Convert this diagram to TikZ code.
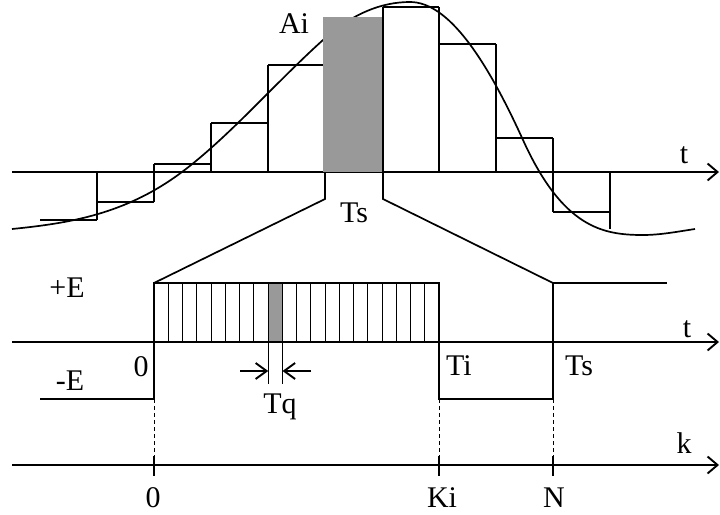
\documentclass[tikz,border=0pt]{standalone}
\usepackage{fontspec}
\setmainfont{Liberation Serif}
\usetikzlibrary{arrows.meta}
\definecolor{barfill}{RGB}{153,153,153}
\begin{document}
\begin{tikzpicture}[x=1pt,y=-1pt,
  axis/.style={line width=1.7pt,-{Straight Barb[length=10pt,width=17pt,line width=1.9pt]}},
  tqarrow/.style={line width=1.5pt,-{Straight Barb[length=11pt,width=16pt,line width=1.9pt]}},
  stair/.style={line width=1.7pt},
  sig/.style={line width=2.9pt,line join=miter},
  hatch/.style={line width=0.8pt},
  guide/.style={line width=0.8pt,dash pattern=on 4pt off 3pt},
  tick/.style={line width=1.4pt},
  lbl/.style={font=\fontsize{30}{36}\selectfont, anchor=base, inner sep=0pt}]
\useasboundingbox (0,0) rectangle (720,514);

% ---------- upper plot ----------
\coordinate (ta1) at (12,172);
\coordinate (ta2) at (719,172);
\draw[axis] (ta1) -- (ta2);

% smooth signal
\draw[line width=1.7pt] (12,229)
  .. controls (68.7,223.3) and (125.3,214.5) .. (182,172)
  .. controls (229,136.75) and (276,82.3) .. (323,40)
  .. controls (352,13.9) and (381,2) .. (410,2)
  .. controls (447.7,2) and (485.3,57) .. (523,140)
  .. controls (563,228) and (603,235) .. (643,235)
  .. controls (660.3,235) and (677.7,231.6) .. (695,229);

% staircase
\draw[stair] (40,220) -- (97,220);
\draw[stair] (97,172) -- (97,220);
\draw[stair] (97,202) -- (154,202);
\draw[stair] (154,164) -- (154,202);
\draw[stair] (154,164) -- (211,164);
\draw[stair] (211,123) -- (211,172);
\draw[stair] (211,123) -- (268,123);
\draw[stair] (268,65) -- (268,172);
\draw[stair] (268,65) -- (323,65);
\fill[barfill] (323,17) rectangle (383,172);
\draw[stair] (383,7) -- (439,7);
\draw[stair] (383,7) -- (383,172);
\draw[stair] (439,7) -- (439,172);
\draw[stair] (439,44) -- (496,44);
\draw[stair] (496,44) -- (496,172);
\draw[stair] (496,138) -- (553,138);
\draw[stair] (553,138) -- (553,212);
\draw[stair] (553,212) -- (610,212);
\draw[stair] (610,172) -- (610,229);

% zoom lines
\coordinate (zl1) at (325,172);
\coordinate (zl2) at (325,199);
\coordinate (zl3) at (154,283);
\coordinate (zr1) at (383,172);
\coordinate (zr2) at (383,199);
\coordinate (zr3) at (553,283);
\draw[stair] (zl1) -- (zl2) -- (zl3);
\draw[stair] (zr1) -- (zr2) -- (zr3);

\node[lbl] (ai) at (294,33) {Ai};
\node[lbl] (tsup) at (354,222) {Ts};
\node[lbl] (tup) at (684,163) {t};

% ---------- PWM signal ----------
\fill[barfill] (268.25,283) rectangle (282.5,342);
\foreach \i in {1,...,19} {
  \draw[hatch] ({154+14.25*\i},283) -- ({154+14.25*\i},342);
}
\coordinate (tb1) at (12,342);
\coordinate (tb2) at (719,342);
\draw[axis] (tb1) -- (tb2);

\draw[sig] (40,399) -- (154,399) -- (154,283) -- (439,283) -- (439,399)
  -- (553,399) -- (553,283) -- (667,283);

% Tq marker
\draw[line width=1.2pt] (268.25,342) -- (268.25,384);
\draw[line width=1.2pt] (282.5,342) -- (282.5,384);
\coordinate (tqa) at (240,371);
\coordinate (tqb) at (268.25,371);
\coordinate (tqc) at (311,371);
\coordinate (tqd) at (282.5,371);
\draw[tqarrow] (tqa) -- (tqb);
\draw[tqarrow] (tqc) -- (tqd);

\node[lbl] (pe) at (67,297) {+E};
\node[lbl] (me) at (70,390) {-E};
\node[lbl] (z1) at (141,376) {0};
\node[lbl] (ti) at (459,375) {Ti};
\node[lbl] (tslo) at (579,375) {Ts};
\node[lbl] (tq) at (280,413) {Tq};
\node[lbl] (tlo) at (687,337) {t};

% ---------- k axis ----------
\coordinate (ka1) at (12,465);
\coordinate (ka2) at (719,465);
\draw[axis] (ka1) -- (ka2);
\foreach \x in {154,439,553} {
  \draw[guide] (\x,399) -- (\x,465);
  \draw[tick] (\x,456) -- (\x,476);
}
\node[lbl] (k) at (684,453) {k};
\node[lbl] (z2) at (153,507) {0};
\node[lbl] (ki) at (442,507) {Ki};
\node[lbl] (n) at (554,507) {N};
\end{tikzpicture}
\end{document}
